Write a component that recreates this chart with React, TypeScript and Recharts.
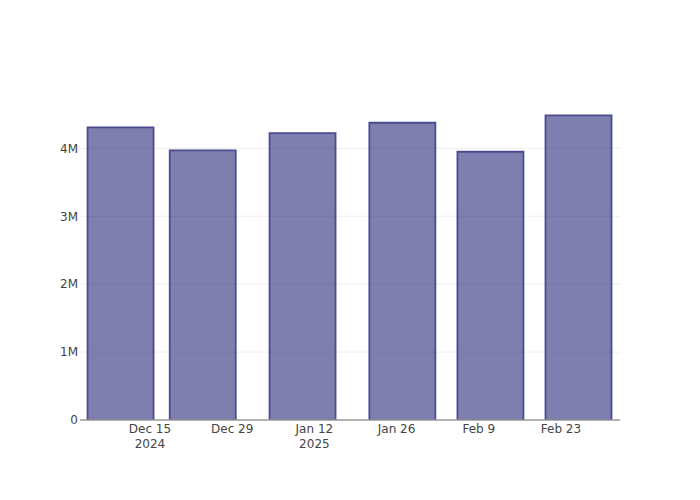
import React from 'react';
import { BarChart, Bar, XAxis, YAxis, CartesianGrid } from 'recharts';

const barDates = ['2024-12-10', '2024-12-24', '2025-01-10', '2025-01-27', '2025-02-11', '2025-02-26'];
const barValues = [4310000, 3970000, 4225000, 4377000, 3950000, 4486000];
const tickDates = ['2024-12-15', '2024-12-29', '2025-01-12', '2025-01-26', '2025-02-09', '2025-02-23'];
const tickLabels = ['Dec 15', 'Dec 29', 'Jan 12', 'Jan 26', 'Feb 9', 'Feb 23'];
const tickYears = ['2024', '', '2025', '', '', ''];
const yTicks = [0, 1000000, 2000000, 3000000, 4000000];
const gridValues = [1000000, 2000000, 3000000, 4000000];

const ORIGIN = Date.UTC(2024, 11, 1);
const toDay = (s: string) => {
  const [y, m, d] = s.split('-').map(Number);
  return (Date.UTC(y, m - 1, d) - ORIGIN) / 86400000;
};

const data = barDates.map((d, i) => ({ x: toDay(d), value: barValues[i] }));
const xTicks = tickDates.map(toDay);

const FONT = 'DejaVu Sans, Verdana, sans-serif';

const XTick = (props: any) => {
  const { x, y, payload } = props;
  const idx = xTicks.indexOf(payload.value);
  const label = idx >= 0 ? tickLabels[idx] : '';
  const year = idx >= 0 ? tickYears[idx] : '';
  return (
    <text x={x} y={y} textAnchor="middle" fill="#444" fontSize={12} fontFamily={FONT}>
      <tspan x={x} dy="0.71em">{label}</tspan>
      {year ? <tspan x={x} dy={15}>{year}</tspan> : null}
    </text>
  );
};

const yFmt = (v: number) => (v === 0 ? '0' : `${v / 1000000}M`);

export default function App() {
  return (
    <div style={{ position: 'absolute', left: 0, top: 0, width: 700, height: 500, background: '#fff' }}>
      <BarChart width={700} height={500} data={data} margin={{ top: 100, right: 80, left: 0, bottom: 0 }}>
        <CartesianGrid vertical={false} stroke="#eeeeee" strokeWidth={1} horizontalValues={gridValues} />
        <XAxis
          dataKey="x"
          type="number"
          domain={[2.08, 94.05]}
          ticks={xTicks}
          allowDataOverflow
          height={80}
          tick={<XTick />}
          tickLine={false}
          tickSize={0}
          tickMargin={4}
          axisLine={{ stroke: '#999', strokeWidth: 1.5 }}
        />
        <YAxis
          type="number"
          domain={[0, 4712000]}
          ticks={yTicks}
          allowDataOverflow
          width={80}
          tickFormatter={yFmt}
          tick={{ fill: '#444', fontSize: 12, fontFamily: FONT }}
          tickLine={false}
          axisLine={false}
          tickSize={0}
          tickMargin={2}
        />
        <Bar
          dataKey="value"
          barSize={66}
          fill="#191970"
          fillOpacity={0.555}
          stroke="#4b4b91"
          strokeWidth={1.8}
          isAnimationActive={false}
        />
      </BarChart>
    </div>
  );
}
